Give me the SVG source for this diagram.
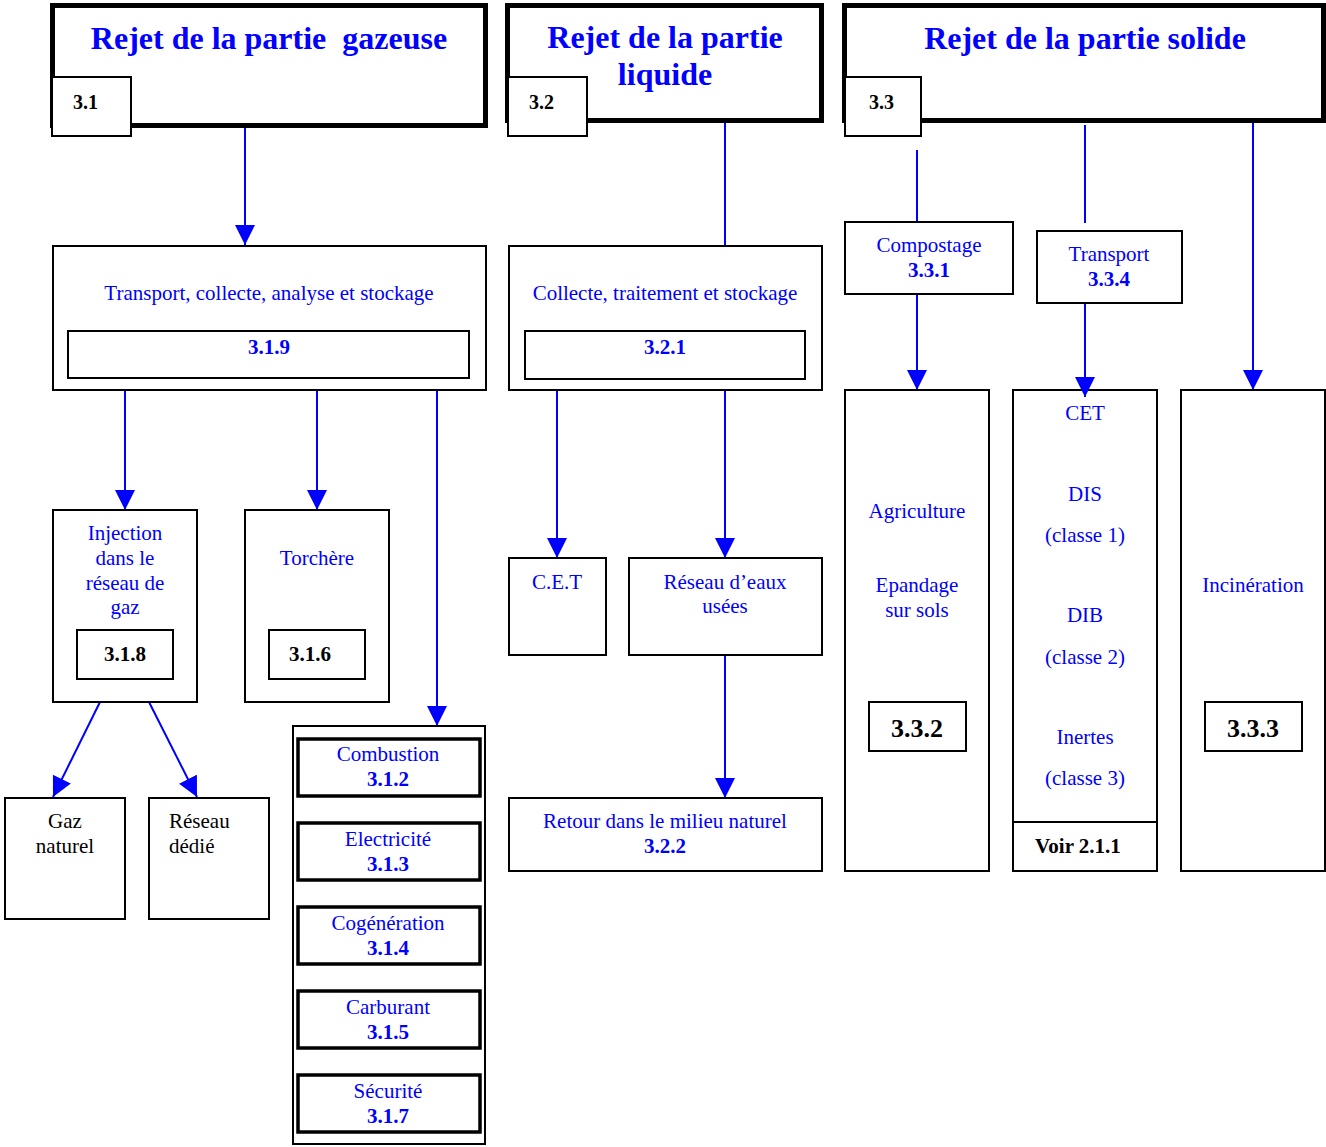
<svg xmlns="http://www.w3.org/2000/svg" width="1326" height="1147" viewBox="0 0 1326 1147">
<style>
.box{fill:#fff;stroke:#000;stroke-width:2}
.hdr{fill:#fff;stroke:#000;stroke-width:5}
.thk{fill:#fff;stroke:#000;stroke-width:3.5}
.ln{stroke:#00f;stroke-width:2;fill:none}
.arr{marker-end:url(#ah)}
text{font-family:"Liberation Serif","Times New Roman",serif;font-size:21px;text-anchor:middle;fill:#00f}
.b{font-weight:bold}
.k{fill:#000}
.ttl{font-size:32px;font-weight:bold}
.big{font-size:26px}
.lab{font-size:20px;font-weight:bold;fill:#000;text-anchor:start}
</style>
<defs>
<marker id="ah" viewBox="0 0 10 10" refX="10" refY="5" markerUnits="userSpaceOnUse" markerWidth="20" markerHeight="21" orient="auto">
<path d="M0,0 L10,5 L0,10 z" fill="#00f"/>
</marker>
</defs>
<rect width="1326" height="1147" fill="#fff"/>

<g id="connectors">
<line class="ln arr" x1="245" y1="128" x2="245" y2="245"/>
<line class="ln" x1="725" y1="123" x2="725" y2="246"/>
<line class="ln" x1="917" y1="150" x2="917" y2="222"/>
<line class="ln" x1="1085" y1="125" x2="1085" y2="223"/>
<line class="ln arr" x1="1253" y1="123" x2="1253" y2="390"/>
<line class="ln arr" x1="125" y1="390" x2="125" y2="510"/>
<line class="ln arr" x1="317" y1="390" x2="317" y2="510"/>
<line class="ln arr" x1="437" y1="390" x2="437" y2="726"/>
<line class="ln arr" x1="100" y1="702" x2="53" y2="797"/>
<line class="ln arr" x1="149" y1="702" x2="197" y2="797"/>
<line class="ln arr" x1="557" y1="390" x2="557" y2="558"/>
<line class="ln arr" x1="725" y1="390" x2="725" y2="558"/>
<line class="ln arr" x1="725" y1="655" x2="725" y2="798"/>
<line class="ln arr" x1="917" y1="294" x2="917" y2="390"/>
<line class="ln" x1="1085" y1="303" x2="1085" y2="380"/>
</g>

<g id="hdr-gaz">
<rect class="hdr" x="52.5" y="5.5" width="433" height="120"/>
<text class="ttl" x="269" y="49" xml:space="preserve">Rejet de la partie  gazeuse</text>
<rect class="box" x="52" y="77" width="79" height="59"/>
<text class="lab" x="73" y="109">3.1</text>
</g>
<g id="hdr-liq">
<rect class="hdr" x="507.5" y="5.5" width="314" height="115"/>
<text class="ttl" x="665" y="48">Rejet de la partie</text>
<text class="ttl" x="665" y="85">liquide</text>
<rect class="box" x="508" y="77" width="79" height="59"/>
<text class="lab" x="529" y="109">3.2</text>
</g>
<g id="hdr-sol">
<rect class="hdr" x="844.5" y="5.5" width="479" height="115"/>
<text class="ttl" x="1085" y="49">Rejet de la partie solide</text>
<rect class="box" x="845" y="77" width="76" height="59"/>
<text class="lab" x="869" y="109">3.3</text>
</g>

<g id="n319">
<rect class="box" x="53" y="246" width="433" height="144"/>
<text x="269" y="300">Transport, collecte, analyse et stockage</text>
<rect class="box" x="68" y="331" width="401" height="47"/>
<text class="b" x="269" y="354">3.1.9</text>
</g>
<g id="n318">
<rect class="box" x="53" y="510" width="144" height="192"/>
<text x="125" y="540">Injection</text>
<text x="125" y="565">dans le</text>
<text x="125" y="590">réseau de</text>
<text x="125" y="614">gaz</text>
<rect class="box" x="77" y="630" width="96" height="49"/>
<text class="b k" x="125" y="661">3.1.8</text>
</g>
<g id="n316">
<rect class="box" x="245" y="510" width="144" height="192"/>
<text x="317" y="565">Torchère</text>
<rect class="box" x="269" y="630" width="96" height="49"/>
<text class="b k" x="310" y="661">3.1.6</text>
</g>
<g id="gaznat">
<rect class="box" x="5" y="798" width="120" height="121"/>
<text class="k" x="65" y="828">Gaz</text>
<text class="k" x="65" y="853">naturel</text>
</g>
<g id="reseau-dedie">
<rect class="box" x="149" y="798" width="120" height="121"/>
<text class="k" x="169" y="828" style="text-anchor:start">Réseau</text>
<text class="k" x="169" y="853" style="text-anchor:start">dédié</text>
</g>
<g id="valorisation">
<rect class="box" x="293" y="726" width="192" height="418"/>
<rect class="thk" x="298" y="739" width="182" height="57"/>
<text x="388" y="761">Combustion</text>
<text class="b" x="388" y="786">3.1.2</text>
<rect class="thk" x="298" y="823" width="182" height="57"/>
<text x="388" y="846">Electricité</text>
<text class="b" x="388" y="871">3.1.3</text>
<rect class="thk" x="298" y="907" width="182" height="57"/>
<text x="388" y="930">Cogénération</text>
<text class="b" x="388" y="955">3.1.4</text>
<rect class="thk" x="298" y="991" width="182" height="57"/>
<text x="388" y="1014">Carburant</text>
<text class="b" x="388" y="1039">3.1.5</text>
<rect class="thk" x="298" y="1075" width="182" height="57"/>
<text x="388" y="1098">Sécurité</text>
<text class="b" x="388" y="1123">3.1.7</text>
</g>

<g id="n321">
<rect class="box" x="509" y="246" width="313" height="144"/>
<text x="665" y="300">Collecte, traitement et stockage</text>
<rect class="box" x="525" y="331" width="280" height="48"/>
<text class="b" x="665" y="354">3.2.1</text>
</g>
<g id="cet-liq">
<rect class="box" x="509" y="558" width="97" height="97"/>
<text x="557" y="589">C.E.T</text>
</g>
<g id="eaux-usees">
<rect class="box" x="629" y="558" width="193" height="97"/>
<text x="725" y="589">Réseau d’eaux</text>
<text x="725" y="613">usées</text>
</g>
<g id="n322">
<rect class="box" x="509" y="798" width="313" height="73"/>
<text x="665" y="828">Retour dans le milieu naturel</text>
<text class="b" x="665" y="853">3.2.2</text>
</g>

<g id="n331">
<rect class="box" x="845" y="222" width="168" height="72"/>
<text x="929" y="252">Compostage</text>
<text class="b" x="929" y="277">3.3.1</text>
</g>
<g id="n334">
<rect class="box" x="1037" y="231" width="145" height="72"/>
<text x="1109" y="261">Transport</text>
<text class="b" x="1109" y="286">3.3.4</text>
</g>
<g id="n332">
<rect class="box" x="845" y="390" width="144" height="481"/>
<text x="917" y="518">Agriculture</text>
<text x="917" y="592">Epandage</text>
<text x="917" y="617">sur sols</text>
<rect class="box" x="869" y="702" width="97" height="49"/>
<text class="b k big" x="917" y="737">3.3.2</text>
</g>
<g id="cet-sol">
<rect class="box" x="1013" y="390" width="144" height="481"/>
<line x1="1013" y1="822" x2="1157" y2="822" stroke="#000" stroke-width="2"/>
<text x="1085" y="420">CET</text>
<text x="1085" y="501">DIS</text>
<text x="1085" y="542">(classe 1)</text>
<text x="1085" y="622">DIB</text>
<text x="1085" y="664">(classe 2)</text>
<text x="1085" y="744">Inertes</text>
<text x="1085" y="785">(classe 3)</text>
<text class="b k" x="1078" y="853">Voir 2.1.1</text>
</g>
<g id="n333">
<rect class="box" x="1181" y="390" width="144" height="481"/>
<text x="1253" y="592">Incinération</text>
<rect class="box" x="1205" y="702" width="97" height="49"/>
<text class="b k big" x="1253" y="737">3.3.3</text>
</g>
<g id="arrow-cet">
<line class="ln arr" x1="1085" y1="378" x2="1085" y2="397"/>
</g>
</svg>
